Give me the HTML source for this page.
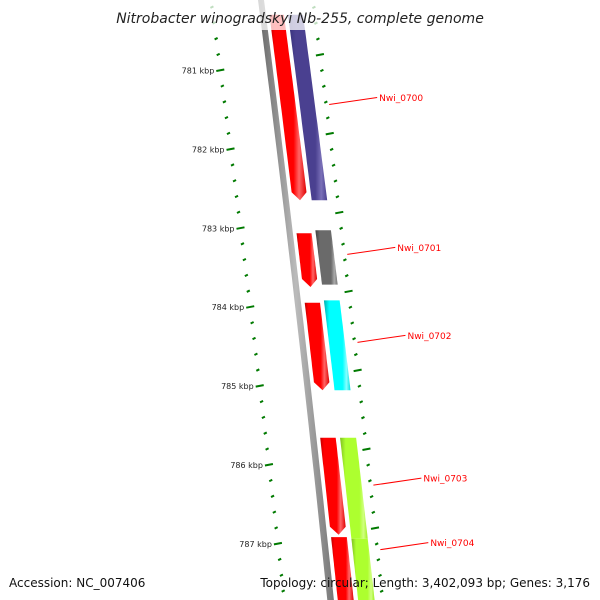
<!DOCTYPE html>
<html><head><meta charset="utf-8">
<style>
html,body{margin:0;padding:0;background:#fff;overflow:hidden;}
svg{display:block;font-family:"DejaVu Sans","Liberation Sans",sans-serif;}
</style></head>
<body>
<svg id="chart" width="600" height="600" viewBox="0 0 600 600">
<defs>
<linearGradient id="gRed" x1="0" x2="1"><stop offset="0" stop-color="#c00000"/><stop offset="0.15" stop-color="#ff0000"/><stop offset="0.65" stop-color="#ff0000"/><stop offset="0.8" stop-color="#ff6666"/><stop offset="1" stop-color="#e00000"/></linearGradient>
<linearGradient id="gBlue" x1="0" x2="1"><stop offset="0" stop-color="#35307a"/><stop offset="0.2" stop-color="#4a4090"/><stop offset="0.7" stop-color="#4a4090"/><stop offset="0.85" stop-color="#7a70b8"/><stop offset="1" stop-color="#4a4090"/></linearGradient>
<linearGradient id="gGrey" x1="0" x2="1"><stop offset="0" stop-color="#444"/><stop offset="0.2" stop-color="#6a6a6a"/><stop offset="0.7" stop-color="#6a6a6a"/><stop offset="0.85" stop-color="#aaa"/><stop offset="1" stop-color="#777"/></linearGradient>
<linearGradient id="gCyan" x1="0" x2="1"><stop offset="0" stop-color="#00b0b0"/><stop offset="0.2" stop-color="#00ffff"/><stop offset="0.7" stop-color="#00ffff"/><stop offset="0.85" stop-color="#88ffff"/><stop offset="1" stop-color="#00e0e0"/></linearGradient>
<linearGradient id="gGreen" x1="0" x2="1"><stop offset="0" stop-color="#80c020"/><stop offset="0.2" stop-color="#adff2f"/><stop offset="0.7" stop-color="#adff2f"/><stop offset="0.85" stop-color="#d0ff80"/><stop offset="1" stop-color="#a0f020"/></linearGradient>
<linearGradient id="gBack" x1="0" x2="1"><stop offset="0" stop-color="#666"/><stop offset="0.5" stop-color="#bbb"/><stop offset="1" stop-color="#777"/></linearGradient>
</defs>
<g id="tracks"></g>
<g id="ticks"></g>
<g id="labels"></g>
<rect x="0" y="0" width="600" height="30" fill="#fff" fill-opacity="0.75"/>
<text x="300" y="23" text-anchor="middle" font-size="14" font-style="italic" fill="#222">Nitrobacter winogradskyi Nb-255, complete genome</text>
<text x="9" y="587" font-size="12" fill="#111">Accession: NC_007406</text>
<text x="590" y="587" text-anchor="end" font-size="12" fill="#111">Topology: circular; Length: 3,402,093 bp; Genes: 3,176</text>
</svg>
<script>
// data
const majorTicks = [781, 782, 783, 784, 785, 786, 787];
const majorTickLabels = ["781 kbp","782 kbp","783 kbp","784 kbp","785 kbp","786 kbp","787 kbp"];
const revStarts = [780.30, 783.07, 783.95, 785.66, 786.92];
const revEnds = [782.65, 783.75, 785.06, 786.89, 787.97];
const geneNames = ["Nwi_0700","Nwi_0701","Nwi_0702","Nwi_0703","Nwi_0704"];
const geneStarts = [780.30, 783.03, 783.92, 785.66, 786.94];
const geneEnds = [782.65, 783.72, 785.06, 786.94, 787.97];
const geneColors = ["url(#gBlue)","url(#gGrey)","url(#gCyan)","url(#gGreen)","url(#gGreen)"];

const NS='http://www.w3.org/2000/svg';
function yOf(k){return 70+(k-781)*78.9;}
function bx(y){return 261+0.128*y-0.00002*y*y;}
function sc(y){return 1+y/6000;}
function mk(t,a,p){const e=document.createElementNS(NS,t);for(const k in a)e.setAttribute(k,a[k]);p.appendChild(e);return e;}
function band(y1,y2,o1,o2,arrow){
  if(y2>600){y2=600;arrow=false;}
  if(y1<0)y1=0;
  const L=[],R=[];const n=24;const yEnd=arrow?y2-8:y2;
  for(let i=0;i<=n;i++){const y=y1+(yEnd-y1)*i/n;L.push([bx(y)+o1*sc(y),y]);R.push([bx(y)+o2*sc(y),y]);}
  let pts=L.slice();
  if(arrow){pts.push([bx(y2)+(o1+o2)/2*sc(y2),y2]);}
  pts=pts.concat(R.reverse());
  return pts.map(p=>p[0].toFixed(1)+','+p[1].toFixed(1)).join(' ');
}
const tk=document.getElementById('ticks'),tr=document.getElementById('tracks'),lb=document.getElementById('labels');
const bb=mk('polygon',{points:band(0,600,-3,3,false),fill:'url(#gBack)'},tr);


for(let i=0;i<=45;i++){
  const k=780.2+i*0.2;const y=yOf(k);
  const major=majorTicks.some(m=>Math.abs(m-k)<0.01);
  const len=major?8:3;
  if(y>2&&y<598){
  const xl=bx(y)-50+y*0.006;
  const t1=mk('line',{x1:xl-len/2,y1:y+1,x2:xl+len/2,y2:y-0.5,stroke:'#007a00','stroke-width':2},tk);
  
  
  }
  const yr=y-15.5;
  if(yr>2&&yr<598){
  const xr=bx(yr)+52;
  const t2=mk('line',{x1:xr-len/2,y1:yr+1,x2:xr+len/2,y2:yr-0.5,stroke:'#007a00','stroke-width':2},tk);
  
  
  }
}
majorTicks.forEach((m,i)=>{
  const y=yOf(m);
  const t=mk('text',{x:bx(y)-56+y*0.006,y:y+3.5,'text-anchor':'end','font-size':8,fill:'#222'},tk);
  t.textContent=majorTickLabels[i];
  
  
});
revStarts.forEach((s,i)=>{
  const p=mk('polygon',{points:band(yOf(s),yOf(revEnds[i]),6.5,21,true),fill:'url(#gRed)'},tr);
  
  
});
geneStarts.forEach((s,i)=>{
  const y1=yOf(s),y2=yOf(geneEnds[i]);
  const p=mk('polygon',{points:band(y1,y2,25,40,false),fill:geneColors[i]},tr);
  
  
  const mid=(y1+y2)/2;
  const ys=mid>575?y1+11:mid-3;
  const x0=bx(ys)+55;
  const ln=mk('line',{x1:x0,y1:ys,x2:x0+48,y2:ys-7,stroke:'#ff0000','stroke-width':1},lb);
  
  
  const t=mk('text',{x:x0+50,y:ys-3.5,'font-size':9,fill:'#ff0000'},lb);
  t.textContent=geneNames[i];
  
  
});
</script>
</body></html>
